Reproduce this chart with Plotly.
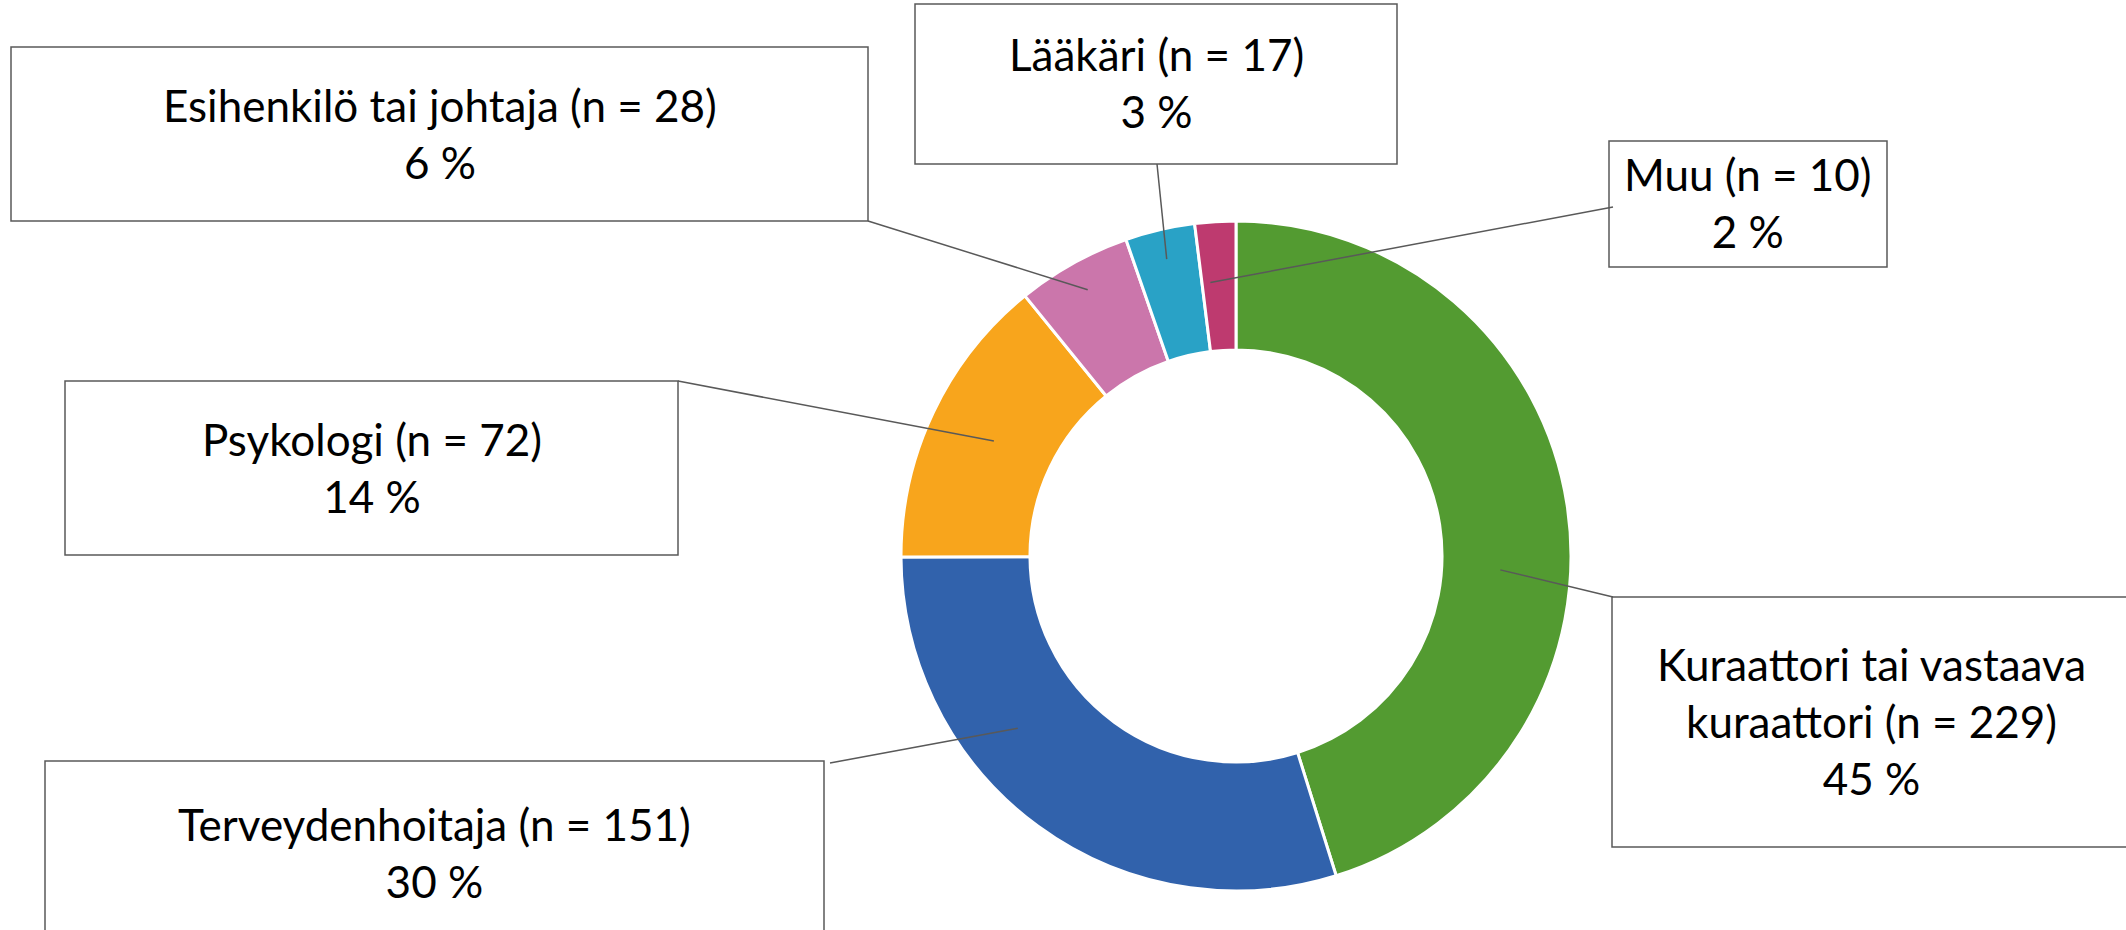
import math
import textwrap
import plotly.graph_objects as go

# ---------------- data ----------------
categories = ["Kuraattori tai vastaava kuraattori", "Terveydenhoitaja", "Psykologi",
              "Esihenkilö tai johtaja", "Lääkäri", "Muu"]
counts = [229, 151, 72, 28, 17, 10]
colors = ["#539B31", "#3162AC", "#F8A51C", "#CB76AB", "#29A2C6", "#BE3A6F"]

# ---------------- layout helpers ----------------
W, H = 2126, 930
CX, CY, R_OUT = 1236, 556, 335      # donut centre / outer radius in pixels
HOLE = 0.615


def px(x):
    return x / W


def py(y):
    return 1 - y / H


# label box layout (pixels): x0, x1, y0(top), y1(bottom), attach point, angle nudge, radius fraction, wrap
boxes = [
    dict(x0=1612, x1=2130, y0=597, y1=847, ax=1613, ay=597, nudge=11.7, rf=0.79, wrap=24),
    dict(x0=45, x1=824, y0=761, y1=945, ax=830, ay=763, nudge=15.5, rf=0.83, wrap=None),
    dict(x0=65, x1=678, y0=381, y1=555, ax=678, ay=381, nudge=0, rf=0.80, wrap=None),
    dict(x0=11, x1=868, y0=47, y1=221, ax=868, ay=221, nudge=0, rf=0.91, wrap=None),
    dict(x0=915, x1=1397, y0=4, y1=164, ax=1157, ay=164, nudge=0, rf=0.91, wrap=None),
    dict(x0=1609, x1=1887, y0=141, y1=267, ax=1613, ay=207, nudge=-1.8, rf=0.82, wrap=None),
]

total = sum(counts)

fig = go.Figure()
fig.add_trace(go.Pie(
    labels=categories,
    values=counts,
    sort=False,
    direction="clockwise",
    rotation=0,
    hole=HOLE,
    textinfo="none",
    hoverinfo="label+value+percent",
    marker=dict(colors=colors, line=dict(color="white", width=3)),
    domain=dict(x=[px(CX - R_OUT), px(CX + R_OUT)],
                y=[py(CY + R_OUT), py(CY - R_OUT)]),
    showlegend=False,
))

shapes = []
annotations = []
cum = 0
for cat, n, b in zip(categories, counts, boxes):
    pct = round(100 * n / total)
    mid = (cum + n / 2) / total * 360 + b["nudge"]
    cum += n
    r = R_OUT * b["rf"]
    sx = CX + r * math.sin(math.radians(mid))
    sy = CY - r * math.cos(math.radians(mid))
    first = f"{cat} (n = {n})"
    if b["wrap"]:
        first = "<br>".join(textwrap.wrap(first, b["wrap"]))
    text = f"{first}<br>{pct} %"

    shapes.append(dict(type="rect", xref="paper", yref="paper",
                       x0=px(b["x0"]), x1=px(b["x1"]), y0=py(b["y1"]), y1=py(b["y0"]),
                       line=dict(color="#595959", width=1.5), fillcolor="white", layer="above"))
    shapes.append(dict(type="line", xref="paper", yref="paper",
                       x0=px(b["ax"]), y0=py(b["ay"]), x1=px(sx), y1=py(sy),
                       line=dict(color="#595959", width=1.5), layer="above"))
    annotations.append(dict(xref="paper", yref="paper",
                            x=px((b["x0"] + b["x1"]) / 2), y=py((b["y0"] + b["y1"]) / 2 - 1),
                            text=text, showarrow=False, xanchor="center", yanchor="middle",
                            align="center",
                            font=dict(family="Lato, Carlito, 'Liberation Sans', sans-serif",
                                      size=44, color="black")))

fig.update_layout(
    width=W, height=H,
    margin=dict(l=0, r=0, t=0, b=0),
    paper_bgcolor="white",
    plot_bgcolor="white",
    shapes=shapes,
    annotations=annotations,
)

fig.write_html("out.html", config={"displayModeBar": False},
               post_script="document.body.style.margin='0';document.body.style.overflow='hidden';")
